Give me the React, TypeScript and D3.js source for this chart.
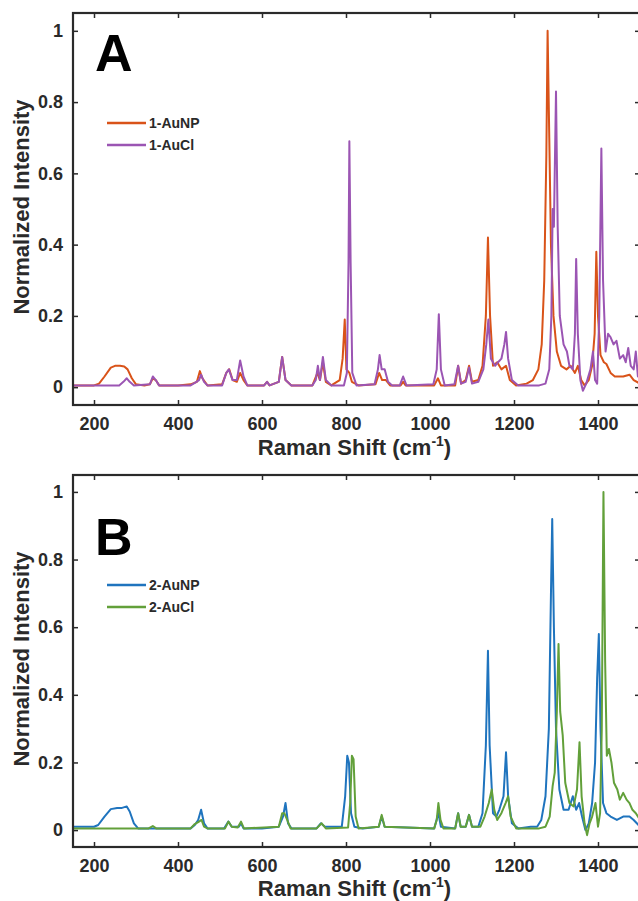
import { useEffect, useRef } from 'react';
import * as d3 from 'd3';

type Pt = [number, number];

// Raman shift (cm^-1), normalized intensity
const auNP1: Pt[] = [
  [150, 0.005], [200, 0.005], [212, 0.01], [225, 0.03], [240, 0.055], [250, 0.06], [262, 0.06], [272, 0.058],
  [280, 0.05], [290, 0.025], [300, 0.008], [320, 0.005], [333, 0.008], [340, 0.025], [347, 0.02], [355, 0.005],
  [400, 0.005], [430, 0.008], [445, 0.015], [452, 0.045], [458, 0.025], [470, 0.005], [505, 0.008], [515, 0.04],
  [522, 0.05], [530, 0.02], [540, 0.015], [548, 0.04], [556, 0.02], [565, 0.005], [605, 0.005], [612, 0.015],
  [618, 0.005], [640, 0.015], [648, 0.085], [656, 0.02], [670, 0.005], [720, 0.005], [732, 0.04], [738, 0.02],
  [745, 0.07], [752, 0.015], [765, 0.005], [785, 0.02], [792, 0.08], [797, 0.19], [801, 0.05], [808, 0.04],
  [814, 0.015], [830, 0.005], [870, 0.008], [879, 0.04], [886, 0.02], [895, 0.02], [905, 0.005], [930, 0.005],
  [936, 0.015], [942, 0.005], [1010, 0.005], [1019, 0.025], [1026, 0.005], [1060, 0.005], [1067, 0.06],
  [1074, 0.01], [1085, 0.02], [1093, 0.06], [1100, 0.015], [1115, 0.02], [1125, 0.06], [1133, 0.2], [1138, 0.42],
  [1143, 0.2], [1150, 0.06], [1160, 0.07], [1170, 0.05], [1181, 0.06], [1190, 0.02], [1205, 0.005], [1230, 0.01],
  [1245, 0.02], [1258, 0.05], [1266, 0.12], [1272, 0.3], [1277, 0.65], [1280, 1.0], [1284, 0.7], [1288, 0.4],
  [1294, 0.2], [1302, 0.1], [1312, 0.06], [1325, 0.05], [1335, 0.06], [1345, 0.04], [1352, 0.06], [1360, 0.02],
  [1368, 0.005], [1378, 0.02], [1386, 0.06], [1392, 0.15], [1396, 0.38], [1400, 0.2], [1406, 0.09], [1414, 0.07],
  [1420, 0.065], [1430, 0.04], [1440, 0.03], [1460, 0.03], [1475, 0.035], [1485, 0.02], [1500, 0.01],
];

const auCl1: Pt[] = [
  [150, 0.005], [260, 0.005], [270, 0.015], [278, 0.025], [285, 0.015], [295, 0.005], [333, 0.008], [340, 0.03],
  [347, 0.02], [355, 0.005], [430, 0.005], [440, 0.012], [450, 0.02], [455, 0.035], [462, 0.015], [470, 0.005],
  [505, 0.005], [515, 0.04], [521, 0.05], [530, 0.02], [540, 0.02], [548, 0.075], [556, 0.03], [565, 0.005],
  [605, 0.005], [612, 0.015], [618, 0.005], [640, 0.015], [648, 0.085], [656, 0.02], [670, 0.005], [720, 0.005],
  [728, 0.02], [733, 0.06], [738, 0.02], [745, 0.085], [752, 0.02], [765, 0.005], [795, 0.005], [802, 0.04],
  [806, 0.35], [808, 0.69], [811, 0.35], [815, 0.04], [825, 0.005], [868, 0.008], [876, 0.05], [880, 0.09],
  [885, 0.05], [892, 0.05], [900, 0.015], [910, 0.005], [928, 0.005], [936, 0.03], [944, 0.005], [1008, 0.008],
  [1016, 0.05], [1021, 0.205], [1026, 0.05], [1035, 0.005], [1058, 0.008], [1067, 0.06], [1074, 0.01],
  [1085, 0.015], [1093, 0.055], [1100, 0.01], [1115, 0.015], [1127, 0.05], [1134, 0.12], [1139, 0.19],
  [1145, 0.08], [1155, 0.06], [1162, 0.07], [1170, 0.08], [1177, 0.12], [1181, 0.155], [1186, 0.08],
  [1195, 0.02], [1210, 0.005], [1260, 0.005], [1275, 0.01], [1284, 0.05], [1289, 0.2], [1292, 0.5], [1295, 0.45],
  [1300, 0.83], [1304, 0.45], [1309, 0.2], [1318, 0.12], [1326, 0.1], [1332, 0.06], [1340, 0.05], [1345, 0.15],
  [1348, 0.36], [1352, 0.15], [1358, 0.02], [1364, -0.01], [1372, 0.01], [1382, 0.05], [1388, 0.1], [1393, 0.02],
  [1398, 0.01], [1403, 0.2], [1408, 0.67], [1412, 0.3], [1418, 0.1], [1424, 0.15], [1430, 0.14], [1437, 0.12],
  [1444, 0.13], [1452, 0.08], [1460, 0.09], [1466, 0.07], [1472, 0.11], [1478, 0.06], [1485, 0.05], [1490, 0.1],
  [1495, 0.03], [1500, 0.05],
];

const auNP2: Pt[] = [
  [150, 0.01], [200, 0.01], [210, 0.015], [225, 0.04], [240, 0.062], [255, 0.065], [265, 0.065], [278, 0.07],
  [285, 0.055], [295, 0.02], [305, 0.005], [340, 0.005], [430, 0.005], [440, 0.015], [448, 0.03], [455, 0.06],
  [462, 0.02], [470, 0.005], [510, 0.005], [520, 0.025], [528, 0.01], [545, 0.01], [550, 0.02], [556, 0.005],
  [600, 0.005], [640, 0.01], [650, 0.04], [656, 0.08], [662, 0.02], [670, 0.005], [730, 0.005], [740, 0.02],
  [750, 0.01], [790, 0.01], [798, 0.1], [803, 0.22], [807, 0.2], [812, 0.05], [820, 0.01], [840, 0.005],
  [878, 0.01], [885, 0.04], [892, 0.01], [1010, 0.005], [1020, 0.05], [1026, 0.01], [1060, 0.005], [1067, 0.05],
  [1073, 0.01], [1085, 0.01], [1093, 0.045], [1100, 0.01], [1115, 0.01], [1125, 0.05], [1133, 0.25],
  [1138, 0.53], [1142, 0.25], [1150, 0.05], [1158, 0.04], [1165, 0.06], [1175, 0.1], [1181, 0.23], [1186, 0.1],
  [1195, 0.02], [1210, 0.005], [1240, 0.01], [1255, 0.01], [1265, 0.03], [1275, 0.1], [1283, 0.3], [1288, 0.7],
  [1291, 0.92], [1295, 0.6], [1300, 0.3], [1308, 0.12], [1318, 0.06], [1330, 0.06], [1340, 0.1], [1348, 0.06],
  [1355, 0.08], [1362, 0.04], [1370, 0.0], [1378, 0.02], [1386, 0.08], [1393, 0.2], [1398, 0.45], [1402, 0.58],
  [1406, 0.3], [1412, 0.08], [1420, 0.05], [1430, 0.04], [1445, 0.03], [1460, 0.04], [1475, 0.04], [1485, 0.03],
  [1500, 0.01],
];

const auCl2: Pt[] = [
  [150, 0.005], [330, 0.005], [340, 0.012], [348, 0.005], [430, 0.005], [440, 0.018], [450, 0.025], [456, 0.03],
  [462, 0.01], [470, 0.005], [512, 0.005], [520, 0.025], [528, 0.01], [542, 0.008], [550, 0.025], [557, 0.005],
  [640, 0.01], [648, 0.05], [653, 0.05], [660, 0.03], [668, 0.005], [730, 0.005], [742, 0.02], [752, 0.005],
  [805, 0.008], [810, 0.08], [814, 0.22], [818, 0.21], [823, 0.04], [830, 0.005], [878, 0.01], [885, 0.045],
  [892, 0.01], [1010, 0.005], [1016, 0.03], [1020, 0.08], [1025, 0.03], [1032, 0.005], [1060, 0.005],
  [1067, 0.05], [1073, 0.01], [1085, 0.01], [1093, 0.045], [1100, 0.01], [1120, 0.01], [1130, 0.04],
  [1140, 0.08], [1147, 0.12], [1153, 0.06], [1160, 0.03], [1170, 0.05], [1180, 0.08], [1186, 0.1], [1192, 0.04],
  [1205, 0.005], [1260, 0.005], [1275, 0.01], [1285, 0.04], [1292, 0.13], [1297, 0.17], [1302, 0.35],
  [1306, 0.55], [1310, 0.35], [1316, 0.28], [1322, 0.14], [1332, 0.08], [1342, 0.07], [1350, 0.12], [1356, 0.26],
  [1361, 0.1], [1368, 0.02], [1374, -0.015], [1380, 0.02], [1386, 0.04], [1394, 0.08], [1400, 0.01], [1405, 0.05],
  [1409, 0.3], [1413, 1.0], [1417, 0.5], [1421, 0.22], [1426, 0.24], [1432, 0.2], [1438, 0.14], [1446, 0.12],
  [1452, 0.09], [1460, 0.11], [1468, 0.09], [1475, 0.08], [1482, 0.06], [1490, 0.05], [1500, 0.03],
];

const xTicks = [200, 400, 600, 800, 1000, 1200, 1400];
const yTicks = [0, 0.2, 0.4, 0.6, 0.8, 1];

const panels = [
  { letter: 'A', top: 13, bottom: 405, letterY: 71, titleGap: 50, names: ['1-AuNP', '1-AuCl'], series: [auNP1, auCl1], colors: ['#D95319', '#9B55B3'] },
  { letter: 'B', top: 475, bottom: 847, letterY: 555, titleGap: 49, names: ['2-AuNP', '2-AuCl'], series: [auNP2, auCl2], colors: ['#1F74BE', '#62A03A'] },
];

const FONT = '"Liberation Sans", Arial, Helvetica, sans-serif';
const INK = '#2a2a2a';

export default function App() {
  const ref = useRef<SVGSVGElement>(null);

  useEffect(() => {
    const svg = d3.select(ref.current);
    svg.selectAll('*').remove();

    const left = 73;
    const right = 640;
    const x = d3.scaleLinear().domain([150, 1500]).range([left, right]);

    panels.forEach((p, i) => {
      const y = d3.scaleLinear().domain([-0.05, 1.05]).range([p.bottom, p.top]);
      const g = svg.append('g');

      const clipId = `clip-${i}`;
      g.append('clipPath').attr('id', clipId)
        .append('rect').attr('x', left).attr('y', p.top).attr('width', right - left).attr('height', p.bottom - p.top);

      const line = d3.line<Pt>().x(d => x(d[0])).y(d => y(d[1]));
      p.series.forEach((s, j) => {
        g.append('path')
          .attr('d', line(s))
          .attr('fill', 'none')
          .attr('stroke', p.colors[j])
          .attr('stroke-width', 2)
          .attr('stroke-linejoin', 'round')
          .attr('clip-path', `url(#${clipId})`);
      });

      // axes, ticks pointing inward
      const fmt = (d: d3.NumberValue) => String(d);
      const bottomAx = g.append('g').attr('transform', `translate(0,${p.bottom})`)
        .call(d3.axisBottom(x).tickValues(xTicks).tickSizeInner(-5).tickSizeOuter(0).tickPadding(12).tickFormat(fmt));
      g.append('g').attr('transform', `translate(0,${p.top})`)
        .call(d3.axisTop(x).tickValues(xTicks).tickSizeInner(-5).tickSizeOuter(0).tickFormat(() => ''));
      const leftAx = g.append('g').attr('transform', `translate(${left},0)`)
        .call(d3.axisLeft(y).tickValues(yTicks).tickSizeInner(-5).tickSizeOuter(0).tickPadding(10).tickFormat(fmt));
      g.append('g').attr('transform', `translate(${right},0)`)
        .call(d3.axisRight(y).tickValues(yTicks).tickSizeInner(-5).tickSizeOuter(0).tickFormat(() => ''));

      g.selectAll('.domain').remove();
      g.selectAll('.tick line').attr('stroke', INK).attr('stroke-width', 1.5);
      [bottomAx, leftAx].forEach(a => a.selectAll('text')
        .attr('font-family', FONT).attr('font-size', 18).attr('font-weight', 'bold').attr('fill', INK));

      g.append('rect')
        .attr('x', left).attr('y', p.top).attr('width', right - left).attr('height', p.bottom - p.top)
        .attr('fill', 'none').attr('stroke', INK).attr('stroke-width', 2.2);

      // axis titles
      const xt = g.append('text')
        .attr('x', (left + right) / 2 - 2).attr('y', p.bottom + p.titleGap)
        .attr('text-anchor', 'middle').attr('font-family', FONT).attr('font-size', 22)
        .attr('font-weight', 'bold').attr('fill', INK);
      xt.append('tspan').text('Raman Shift (cm');
      xt.append('tspan').attr('font-size', 14).attr('dy', -9).text('-1');
      xt.append('tspan').attr('dy', 9).text(')');

      g.append('text')
        .attr('transform', `translate(29,${(p.top + p.bottom) / 2 - 2}) rotate(-90)`)
        .attr('text-anchor', 'middle').attr('font-family', FONT).attr('font-size', 22)
        .attr('font-weight', 'bold').attr('fill', INK).text('Normalized Intensity');

      // panel letter
      g.append('text').attr('x', 95).attr('y', p.letterY)
        .attr('font-family', FONT).attr('font-size', 52).attr('font-weight', 'bold').attr('fill', '#000')
        .text(p.letter);

      // legend
      p.names.forEach((name, j) => {
        const ly = p.top + 110 + j * 22;
        g.append('line').attr('x1', 107).attr('x2', 146).attr('y1', ly).attr('y2', ly)
          .attr('stroke', p.colors[j]).attr('stroke-width', 2.5);
        g.append('text').attr('x', 149).attr('y', ly + 5)
          .attr('font-family', FONT).attr('font-size', 14).attr('font-weight', 'bold').attr('fill', INK)
          .text(name);
      });
    });
  }, []);

  return (
    <svg
      ref={ref}
      width={638}
      height={901}
      style={{ position: 'absolute', left: 0, top: 0, background: '#fff' }}
    />
  );
}
